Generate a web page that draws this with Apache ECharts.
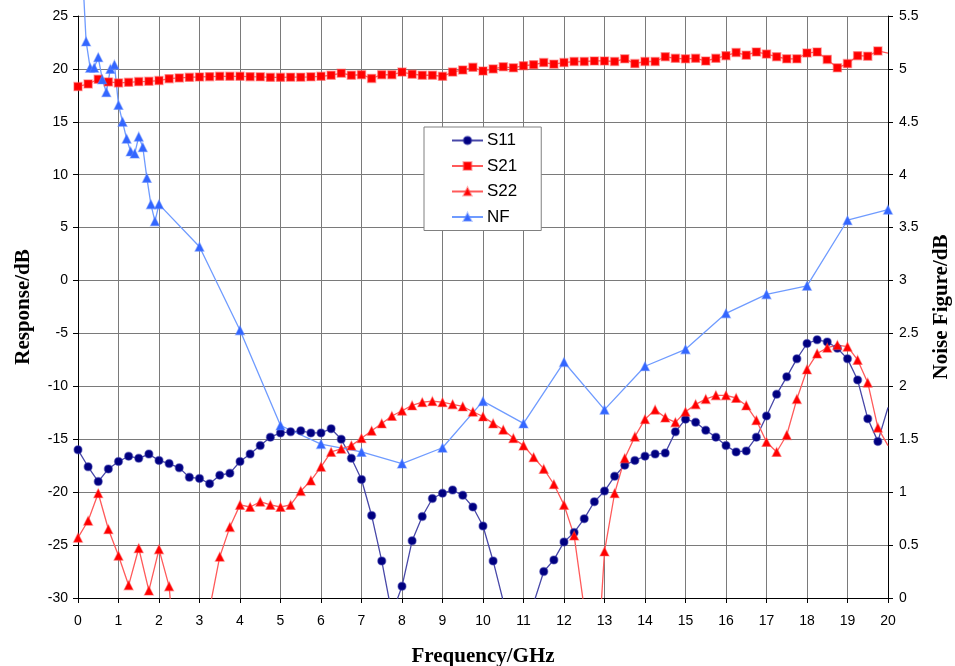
<!DOCTYPE html>
<html>
<head>
<meta charset="utf-8">
<script src="https://cdn.jsdelivr.net/npm/echarts@6/dist/echarts.min.js"></script>
<style>
html,body{margin:0;padding:0;background:#fff;overflow:hidden;}
#chart{width:955px;height:666px;}
</style>
</head>
<body>
<div id="chart"></div>
<script>
// Frequency grid for S-parameters (GHz)
const freq = [0,0.25,0.5,0.75,1,1.25,1.5,1.75,2,2.25,2.5,2.75,3,3.25,3.5,3.75,4,4.25,4.5,4.75,
  5,5.25,5.5,5.75,6,6.25,6.5,6.75,7,7.25,7.5,7.75,8,8.25,8.5,8.75,9,9.25,9.5,9.75,
  10,10.25,10.5,10.75,11,11.25,11.5,11.75,12,12.25,12.5,12.75,13,13.25,13.5,13.75,14,14.25,14.5,14.75,
  15,15.25,15.5,15.75,16,16.25,16.5,16.75,17,17.25,17.5,17.75,18,18.25,18.5,18.75,19,19.25,19.5,19.75,20];

const s11 = [-16.0,-17.6,-19.0,-17.8,-17.1,-16.6,-16.8,-16.4,-17.0,-17.3,-17.7,-18.6,-18.7,-19.2,-18.4,-18.2,-17.1,-16.4,-15.6,-14.8,
  -14.4,-14.3,-14.2,-14.4,-14.4,-14.0,-15.0,-16.8,-18.8,-22.2,-26.5,-31.5,-28.9,-24.6,-22.3,-20.6,-20.1,-19.8,-20.3,-21.4,
  -23.2,-26.5,-30.3,-36.0,-37.0,-30.5,-27.5,-26.4,-24.7,-23.8,-22.5,-20.9,-19.9,-18.5,-17.45,-17.0,-16.6,-16.4,-16.3,-14.3,
  -13.1,-13.4,-14.15,-14.8,-15.6,-16.2,-16.1,-14.8,-12.8,-10.75,-9.1,-7.4,-5.95,-5.6,-5.8,-6.4,-7.4,-9.4,-13.05,-15.2,-12.0];

const s21 = [18.33,18.58,19.02,18.77,18.68,18.73,18.8,18.83,18.9,19.08,19.15,19.2,19.24,19.27,19.3,19.3,19.3,19.27,19.25,19.2,
  19.2,19.22,19.22,19.25,19.3,19.4,19.6,19.4,19.45,19.1,19.45,19.45,19.7,19.5,19.4,19.4,19.3,19.7,19.9,20.15,
  19.8,20.0,20.2,20.1,20.3,20.4,20.6,20.45,20.6,20.7,20.7,20.75,20.75,20.7,20.95,20.5,20.7,20.7,21.15,21.0,
  20.95,21.0,20.75,21.0,21.25,21.55,21.3,21.6,21.4,21.15,20.95,20.95,21.5,21.6,20.9,20.1,20.5,21.25,21.2,21.7,21.5];

const s22 = [-24.3,-22.7,-20.1,-23.5,-26.0,-28.8,-25.3,-29.3,-25.4,-28.9,-40.0,-42.0,-38.0,-31.0,-26.1,-23.3,-21.2,-21.4,-20.9,-21.2,
  -21.4,-21.2,-19.9,-18.9,-17.6,-16.2,-15.9,-15.6,-14.9,-14.2,-13.5,-12.8,-12.3,-11.8,-11.5,-11.4,-11.5,-11.7,-11.9,-12.4,
  -12.85,-13.5,-14.1,-14.9,-15.6,-16.7,-17.8,-19.25,-21.2,-24.1,-31.0,-41.0,-25.6,-20.1,-16.8,-14.75,-13.1,-12.2,-12.95,-13.4,
  -12.4,-11.7,-11.2,-10.85,-10.85,-11.1,-11.8,-13.2,-15.25,-16.2,-14.6,-11.2,-8.4,-6.9,-6.35,-6.1,-6.25,-7.5,-9.65,-13.9,-15.6];

// Noise figure (right axis)
const nfFreq = [0.1,0.2,0.3,0.4,0.5,0.6,0.7,0.8,0.9,1.0,1.1,1.2,1.3,1.4,1.5,1.6,1.7,1.8,1.9,2,
  3,4,5,6,7,8,9,10,11,12,13,14,15,16,17,18,19,20];
const nf = [6.0,5.26,5.01,5.01,5.11,4.9,4.78,5.0,5.04,4.66,4.5,4.34,4.22,4.2,4.36,4.26,3.97,3.72,3.56,3.72,
  3.32,2.53,1.63,1.455,1.38,1.27,1.42,1.86,1.65,2.23,1.78,2.19,2.35,2.69,2.87,2.95,3.57,3.67];

const seriesNames = ['S11','S21','S22','NF'];
const xTitle = 'Frequency/GHz';
const yLeftTitle = 'Response/dB';
const yRightTitle = 'Noise Figure/dB';

function pairs(xs, ys, hideLast) {
  return ys.map((v, i) => {
    if (hideLast && i === ys.length - 1) return { value: [xs[i], v], symbol: 'none' };
    return [xs[i], v];
  });
}

const sansFont = 'Liberation Sans, Arial, sans-serif';
const serifFont = 'Liberation Serif, Times New Roman, serif';

const chart = echarts.init(document.getElementById('chart'), null, { renderer: 'canvas' });
chart.setOption({
  animation: false,
  backgroundColor: '#ffffff',
  grid: { left: 78, right: 67, top: 16, bottom: 68, containLabel: false, outerBoundsMode: 'none' },
  legend: {
    orient: 'vertical',
    left: 424, top: 127,
    data: seriesNames,
    backgroundColor: '#ffffff',
    borderColor: '#808080', borderWidth: 1,
    padding: [5, 24, 5, 27],
    itemWidth: 31, itemHeight: 10, itemGap: 8.5,
    textStyle: { fontFamily: sansFont, fontSize: 17, color: '#000', lineHeight: 17, padding: [0, 0, 0, -1] }
  },
  xAxis: {
    type: 'value', min: 0, max: 20, interval: 1,
    name: xTitle, nameLocation: 'middle', nameGap: 48,
    nameTextStyle: { fontFamily: serifFont, fontWeight: 'bold', fontSize: 21, color: '#000' },
    axisLine: { onZero: false, lineStyle: { color: '#000', width: 1 } },
    axisTick: { show: true, length: 5, lineStyle: { color: '#000' } },
    axisLabel: { fontFamily: sansFont, fontSize: 14, color: '#000', margin: 16 },
    splitLine: { show: true, lineStyle: { color: '#7a7a7a', width: 1 } }
  },
  yAxis: [
    {
      type: 'value', min: -30, max: 25, interval: 5, position: 'left',
      name: yLeftTitle, nameLocation: 'middle', nameGap: 44,
      nameTextStyle: { fontFamily: serifFont, fontWeight: 'bold', fontSize: 21, color: '#000' },
      axisLine: { show: true, onZero: false, lineStyle: { color: '#000', width: 1 } },
      axisTick: { show: true, length: 5, lineStyle: { color: '#000' } },
      axisLabel: { fontFamily: sansFont, fontSize: 14, color: '#000', margin: 10 },
      splitLine: { show: true, lineStyle: { color: '#7a7a7a', width: 1 } }
    },
    {
      type: 'value', min: 0, max: 5.5, interval: 0.5, position: 'right',
      name: yRightTitle, nameLocation: 'middle', nameGap: 43,
      nameTextStyle: { fontFamily: serifFont, fontWeight: 'bold', fontSize: 21, color: '#000' },
      axisLine: { show: true, onZero: false, lineStyle: { color: '#000', width: 1 } },
      axisTick: { show: true, length: 5, lineStyle: { color: '#000' } },
      axisLabel: { fontFamily: sansFont, fontSize: 14, color: '#000', margin: 11 },
      splitLine: { show: false }
    }
  ],
  series: [
    {
      name: 'S11', type: 'line', yAxisIndex: 0,
      data: pairs(freq, s11, true),
      symbol: 'circle', symbolSize: 8,
      lineStyle: { color: '#4848a8', width: 1.3 },
      itemStyle: { color: '#000080', borderColor: 'rgba(60,60,170,0.45)', borderWidth: 1.5 },
      clip: true
    },
    {
      name: 'S21', type: 'line', yAxisIndex: 0,
      data: pairs(freq, s21, true),
      symbol: 'rect', symbolSize: 8,
      lineStyle: { color: '#ff5a5a', width: 1.3 },
      itemStyle: { color: '#ff0000', borderColor: 'rgba(255,80,80,0.45)', borderWidth: 1.5 },
      clip: true
    },
    {
      name: 'S22', type: 'line', yAxisIndex: 0,
      data: pairs(freq, s22, true),
      symbol: 'triangle', symbolSize: 9,
      lineStyle: { color: '#ff5a5a', width: 1.3 },
      itemStyle: { color: '#ff0000', borderColor: 'rgba(255,80,80,0.45)', borderWidth: 1.2 },
      clip: true
    },
    {
      name: 'NF', type: 'line', yAxisIndex: 1,
      data: pairs(nfFreq, nf, false),
      symbol: 'triangle', symbolSize: 9,
      lineStyle: { color: '#6f9bff', width: 1.3 },
      itemStyle: { color: '#3366ff', borderColor: 'rgba(100,140,255,0.45)', borderWidth: 1.2 },
      clip: false
    }
  ]
});
</script>
</body>
</html>
